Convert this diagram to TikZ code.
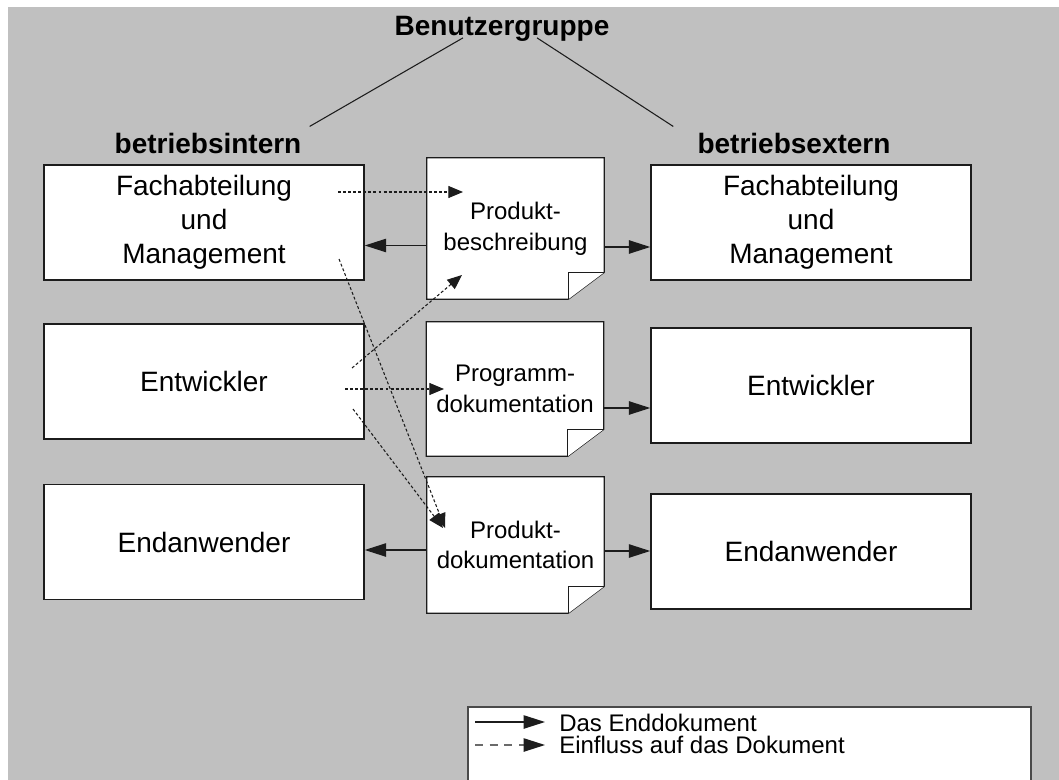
\documentclass[tikz,border=0pt]{standalone}
\usepackage{fontspec}
\setmainfont{Liberation Sans}
\usetikzlibrary{arrows.meta,calc,backgrounds}
\definecolor{backdrop}{HTML}{C0C0C0}
\definecolor{ink}{HTML}{1C1C1C}
\definecolor{legendgrey}{HTML}{6A6A6A}
\definecolor{frame}{HTML}{4A4A4A}

% folded sheet drawn behind a document node
\newcommand\docsheet[1]{%
  \begin{scope}[on background layer]
    \draw[sheet] (#1.north west) -- (#1.north east) -- ($(#1.south east)+(0,-27)$)
      -- ($(#1.south east)+(-36,0)$) -- (#1.south west) -- cycle;
    \draw[sheet] ($(#1.south east)+(-36,0)$) -- ($(#1.south east)+(-36,-27)$)
      -- ($(#1.south east)+(0,-27)$);
  \end{scope}}

\begin{document}
\begin{tikzpicture}[x=0.75pt,y=-0.75pt,
  groupbox/.style={draw=ink,line width=1.1pt,fill=white,inner sep=0pt,
    minimum width=240pt,minimum height=86.25pt,align=center,
    font=\fontsize{21}{25.5}\selectfont},
  docnode/.style={inner sep=0pt,minimum width=132.75pt,align=center,
    font=\fontsize{18}{23}\selectfont},
  sheet/.style={draw=ink,line width=1pt,fill=white,line join=miter},
  heading/.style={inner sep=0pt,font=\fontsize{21}{25}\selectfont\bfseries},
  final/.style={draw=ink,line width=1pt,-{Triangle[length=16pt,width=10pt]}},
  influence/.style={draw=ink,line width=0.8pt,dash pattern=on 2.2pt off 1.6pt,
    -{Triangle[length=11pt,width=9pt]}},
  legendtext/.style={inner sep=0pt,anchor=west,font=\fontsize{18}{21}\selectfont}]

% page and backdrop
\useasboundingbox (0,0) rectangle (1059,780);
\begin{scope}[on background layer]
  \fill[white] (0,0) rectangle (1059,780);
  \fill[backdrop] (8,7) rectangle (1059,780);
\end{scope}

% headings
\node[heading] (group) at (502,29) {Benutzergruppe};
\node[heading] (intern) at (208,143) {betriebsintern};
\node[heading] (extern) at (794,143) {betriebsextern};
\draw[ink,line width=0.8pt] ($(group.south)+(-39,-4)$) -- ($(intern.north east)+(8,-6)$);
\draw[ink,line width=0.8pt] ($(group.south)+(35,-4)$) -- ($(extern.north west)+(-24,-6)$);

% internal user groups
\node[groupbox] (fmL) at (204,222.5) {Fachabteilung\\und\\Management};
\node[groupbox] (entL) at (204,381.5) {Entwickler};
\node[groupbox] (endL) at (204,542) {Endanwender};

% external user groups
\node[groupbox] (fmR) at (811,222.5) {Fachabteilung\\und\\Management};
\node[groupbox] (entR) at (811,385.5) {Entwickler};
\node[groupbox] (endR) at (811,551.5) {Endanwender};

% documents
\node[docnode,minimum height=105.75pt] (pb) at (515.5,228.5) {Produkt-\\beschreibung};
\node[docnode,minimum height=100.5pt] (pd) at (515,389) {Programm-\\dokumentation};
\node[docnode,minimum height=102pt] (pk) at (515.5,545) {Produkt-\\dokumentation};
\docsheet{pb}
\docsheet{pd}
\docsheet{pk}

% final documents go to the user groups
\coordinate (pbL) at ($(pb.west)+(0,17)$);
\coordinate (pbR) at ($(pb.east)+(0,18.5)$);
\coordinate (pdR) at ($(pd.east)+(0,19)$);
\coordinate (pkL) at ($(pk.west)+(0,5)$);
\coordinate (pkR) at ($(pk.east)+(0,6)$);
\draw[final] (pbL) -- (pbL -| fmL.east);
\draw[final] (pbR) -- (pbR -| fmR.west);
\draw[final] (pdR) -- (pdR -| entR.west);
\draw[final] (pkL) -- (pkL -| endL.east);
\draw[final] (pkR) -- (pkR -| endR.west);

% influence of the internal groups on the documents
\coordinate (fmA) at (338,192);
\coordinate (fmB) at (339,259);
\coordinate (entA) at (352,368);
\coordinate (entB) at (345,389);
\coordinate (entC) at (353,409);
\coordinate (pbIn) at (463,192);
\coordinate (pbLow) at (462,275);
\coordinate (pdIn) at (444,389);
\coordinate (pkIn) at (445,528);
\coordinate (pkIn2) at (443,528);
\draw[influence] (fmA) -- (pbIn);
\draw[influence] (fmB) -- (pkIn);
\draw[influence] (entA) -- (pbLow);
\draw[influence] (entB) -- (pdIn);
\draw[influence] (entC) -- (pkIn2);

% legend
\fill[white] (468,707) rectangle (1031,780);
\draw[frame,line width=1.4pt] (468,780) -- (468,707) -- (1031,707) -- (1031,780);
\coordinate (lgA) at (475,722);
\coordinate (lgB) at (545,722);
\coordinate (lgC) at (475,745);
\coordinate (lgD) at (545,745);
\draw[ink,line width=1pt,-{Triangle[length=16pt,width=10pt]}] (lgA) -- (lgB);
\draw[legendgrey,line width=1pt,dash pattern=on 6pt off 5pt,
  -{Triangle[length=16pt,width=10pt,color=ink,fill=ink]}] (lgC) -- (lgD);
\node[legendtext] (lgT1) at (559,723) {Das Enddokument};
\node[legendtext] (lgT2) at (559,745) {Einfluss auf das Dokument};
\end{tikzpicture}
\end{document}
